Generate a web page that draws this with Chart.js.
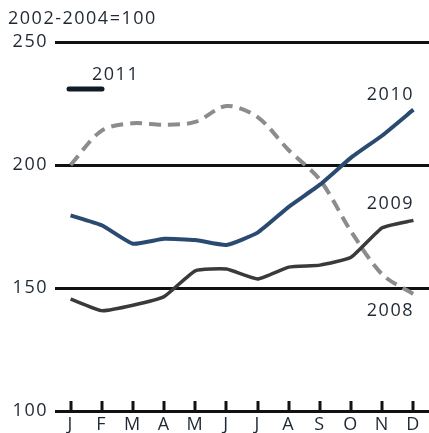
<!DOCTYPE html>
<html>
<head>
<meta charset="utf-8">
<script src="https://cdn.jsdelivr.net/npm/chart.js@4"></script>
<style>
html,body{margin:0;padding:0;background:#fff;}
#wrap{width:429px;height:433px;position:relative;}
</style>
</head>
<body>
<div id="wrap"><canvas id="chart"></canvas></div>
<script>
/* ================= DATA ================= */
const months=['J','F','M','A','M','J','J','A','S','O','N','D'];
const yTicks=[100,150,200,250];
const values2010=[179.5,175.5,168,170,169.5,167.5,172.5,183,192,203,212,222.5];
const values2009=[145.5,140.8,143,146.5,157,157.7,153.7,158.5,159.3,162.5,174.5,177.5];
const values2008=[200,214,217,216.3,217.5,224,219.5,206,194,173,155.5,147.5];
const baseLabel='2002-2004=100';
const legendLabel='2011';

const FONT='"Open Sans", "Liberation Sans", sans-serif';
const TXT='#1f2833';

/* ================= LABELS PLUGIN ================= */
const annot={
id:'annot',
beforeDraw(chart){
chart.ctx.letterSpacing='1.5px';
},
afterDraw(chart){
const ctx=chart.ctx;
const x=chart.scales.x, y=chart.scales.y;
ctx.save();

// tick marks on the 100 line, pointing up
ctx.strokeStyle='#111';
ctx.lineWidth=3;
const y0=y.getPixelForValue(100);
months.forEach((m,i)=>{
const px=Math.round(x.getPixelForValue(i));
ctx.beginPath();
ctx.moveTo(px,y0);
ctx.lineTo(px,y0-10);
ctx.stroke();
});

ctx.fillStyle=TXT;
ctx.font='18px '+FONT;
ctx.letterSpacing='1.5px';
ctx.textBaseline='middle';
ctx.textAlign='left';
ctx.fillText(baseLabel,8,19);

// 2011 legend
ctx.fillText(legendLabel,92,75);
ctx.strokeStyle='#0f1b26';
ctx.lineWidth=5;
ctx.lineCap='round';
ctx.beginPath();
ctx.moveTo(69,89);
ctx.lineTo(102,89);
ctx.stroke();

// series end labels
ctx.textAlign='center';
const last=months.length-1;
const lx=x.getPixelForValue(last)-23;
ctx.fillText('2010',lx,y.getPixelForValue(values2010[last])-15);
ctx.fillText('2009',lx,y.getPixelForValue(values2009[last])-16);
ctx.fillText('2008',lx,y.getPixelForValue(values2008[last])+17);
ctx.restore();
}
};

/* ================= CHART ================= */
new Chart(document.getElementById('chart'),{
type:'line',
data:{
labels:months,
datasets:[
{label:'2010',data:values2010,borderColor:'#2b4a71',borderWidth:4,tension:.15,pointRadius:0,clip:false},
{label:'2009',data:values2009,borderColor:'#3a3a3a',borderWidth:3.5,tension:.15,pointRadius:0,clip:false},
{label:'2008',data:values2008,borderColor:'#8c8c8c',borderWidth:4,borderDash:[12,7],tension:.3,pointRadius:0,clip:false}
]
},
options:{
responsive:true,
maintainAspectRatio:false,
animation:false,
layout:{padding:{top:42,right:0,left:0,bottom:0}},
plugins:{legend:{display:false},tooltip:{enabled:false}},
scales:{
x:{
offset:true,
grid:{display:false,drawTicks:false},
border:{display:false},
ticks:{color:TXT,font:{family:FONT,size:18},padding:3,maxRotation:0,autoSkip:false},
afterFit(s){s.height=22;}
},
y:{
min:100,max:250,
afterBuildTicks(s){s.ticks=yTicks.map(v=>({value:v}));},
grid:{color:'#111',lineWidth:3,drawTicks:false},
border:{display:false},
ticks:{color:TXT,font:{family:FONT,size:18},padding:7},
afterFit(s){s.width=55;}
}
}
},
plugins:[annot]
});
</script>
</body>
</html>
